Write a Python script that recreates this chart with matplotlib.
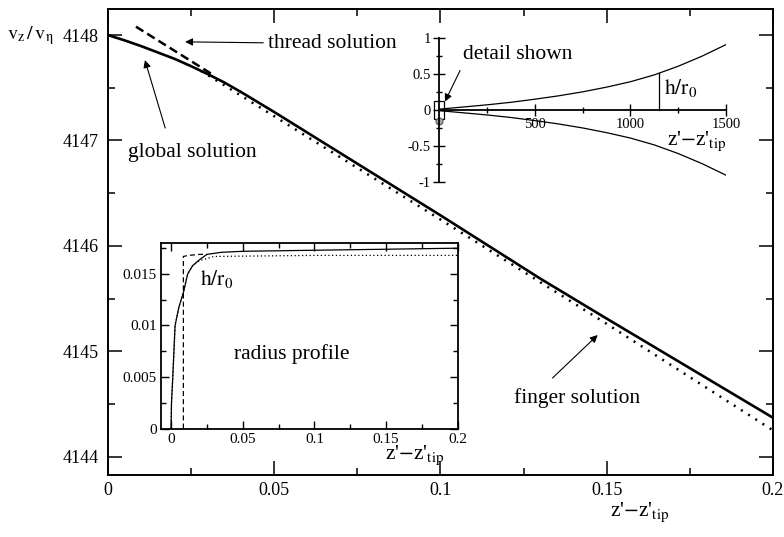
import numpy as np
import matplotlib.pyplot as plt
from matplotlib.ticker import MultipleLocator

plt.rcParams['font.family'] = ['Liberation Serif', 'DejaVu Serif']
plt.rcParams['mathtext.fontset'] = 'stix'

# main panel: velocity vs distance from tip
z_glob = [0, 0.005, 0.01, 0.015, 0.02, 0.025, 0.03, 0.035, 0.04, 0.05,
          0.075, 0.1, 0.13, 0.15, 0.175, 0.2]
v_glob = [4148.0, 4147.95, 4147.895, 4147.835, 4147.775, 4147.705, 4147.63,
          4147.55, 4147.46, 4147.27, 4146.78, 4146.29, 4145.69, 4145.31,
          4144.84, 4144.37]
z_finger = [0.028, 0.05, 0.1, 0.15, 0.2]
v_finger = [4147.66, 4147.23, 4146.25, 4145.26, 4144.25]
z_thread = [0.0084, 0.032]
v_thread = [4148.08, 4147.615]

# upper inset: full radius profile
z_prof = [0, 125, 250, 375, 500, 625, 750, 875, 1000, 1125, 1250, 1375, 1500]
h_prof = [0.01, 0.04, 0.07, 0.105, 0.148, 0.195, 0.25, 0.315, 0.39, 0.485,
          0.605, 0.745, 0.905]
z_mark = 1150
h_mark = 0.509

# lower inset: radius profile near the tip
z_rad = [0, 0.0003, 0.0012, 0.0028, 0.0055, 0.0086, 0.0116, 0.015, 0.02,
         0.025, 0.035, 0.05, 0.1, 0.15, 0.2]
h_rad = [0, 0.0025, 0.005, 0.01, 0.0118, 0.0132, 0.015, 0.0158, 0.0164,
         0.0169, 0.0171, 0.0172, 0.0173, 0.0174, 0.0175]
z_rad_f = [0, 0.0003, 0.0012, 0.0028, 0.0055, 0.0086, 0.0116, 0.015, 0.02,
           0.03, 0.1, 0.2]
h_rad_f = [0, 0.0025, 0.005, 0.01, 0.0118, 0.0132, 0.015, 0.0158, 0.0163,
           0.0167, 0.0168, 0.0168]
z_rad_t = [0.0086, 0.0086, 0.012, 0.02, 0.025]
h_rad_t = [0, 0.0167, 0.0168, 0.0169, 0.0169]

fig = plt.figure(figsize=(7.84, 5.37), dpi=100)
ax = fig.add_axes([0.1378, 0.1155, 0.848, 0.867])

ax.plot(z_glob, v_glob, color='black', lw=1.9)
ax.plot(z_finger, v_finger, color='black', lw=1.8, ls=(0, (0.8, 2.6)))
ax.plot(z_thread, v_thread, color='black', lw=1.8, ls=(0, (3.5, 1.8)))

ax.set_xlim(0, 0.2)
ax.set_ylim(4143.826, 4148.244)
ax.set_xticks([0, 0.05, 0.1, 0.15, 0.2])
ax.set_xticklabels(['0', '0.05', '0.1', '0.15', '0.2'])
ax.set_yticks([4144, 4145, 4146, 4147, 4148])
ax.xaxis.set_minor_locator(MultipleLocator(0.025))
ax.yaxis.set_minor_locator(MultipleLocator(0.5))
ax.tick_params(which='both', direction='in', top=True, right=True,
               labelsize=13, width=1.1)
ax.tick_params(which='major', length=10)
ax.tick_params(axis='x', which='major', pad=5)
ax.tick_params(axis='y', which='major', pad=7)
ax.tick_params(which='minor', length=5)
for s in ax.spines.values():
    s.set_linewidth(1.4)

ax.text(-0.0305, 4148.0, r'$\mathrm{v_z\,/\,v_\eta}$', fontsize=14.5,
        ha='left', va='center', clip_on=False)
ax.text(0.8, -0.055, r"z'$-$z'$_{\mathrm{tip}}$", fontsize=15.5,
        ha='center', va='top', transform=ax.transAxes)

arrow = dict(arrowstyle='-|>', lw=0.8, color='black', mutation_scale=11,
             shrinkA=0, shrinkB=0)
ax.text(0.0482, 4147.924, 'thread solution', fontsize=15.5, ha='left',
        va='center')
ax.annotate('', xy=(0.0232, 4147.936), xytext=(0.0467, 4147.927),
            arrowprops=arrow)
ax.text(0.0253, 4146.89, 'global solution', fontsize=15.5, ha='center',
        va='center')
ax.annotate('', xy=(0.0111, 4147.763), xytext=(0.0172, 4147.118),
            arrowprops=arrow)
ax.text(0.141, 4144.556, 'finger solution', fontsize=15.5, ha='center',
        va='center')
ax.annotate('', xy=(0.1473, 4145.154), xytext=(0.1337, 4144.746),
            arrowprops=arrow)

# upper inset
ai = fig.add_axes([0.560, 0.661, 0.366, 0.2687])
ai.patch.set_visible(False)
z_arr = np.array(z_prof)
h_arr = np.array(h_prof)
ai.plot(z_arr, h_arr, color='black', lw=0.9)
ai.plot(z_arr, -h_arr, color='black', lw=0.9)
ai.plot([z_mark, z_mark], [0, h_mark], color='black', lw=0.9)
ai.set_xlim(0, 1500)
ai.set_ylim(-1, 1)
ai.spines['top'].set_visible(False)
ai.spines['right'].set_visible(False)
ai.spines['bottom'].set_position(('data', 0))
for s in ('left', 'bottom'):
    ai.spines[s].set_linewidth(1.3)
ai.set_xticks([500, 1000, 1500])
ai.set_xticks([250, 750, 1250], minor=True)
ai.set_yticks([-1, -0.5, 0, 0.5, 1])
ai.set_yticklabels(['-1', '-0.5', '0', '0.5', '1'])
ai.yaxis.set_minor_locator(MultipleLocator(0.25))
ai.tick_params(which='both', direction='inout', labelsize=10.5, width=1)
ai.tick_params(which='major', length=8, pad=2)
ai.tick_params(which='minor', length=5)
ai.add_patch(plt.Rectangle((-26, -0.13), 54, 0.26, fill=False, lw=0.9,
                           ec='black', clip_on=False))
ai.plot([0], [-0.15], 'o', ms=5, mfc='0.65', mec='0.35', mew=0.8,
        clip_on=False)
ai.text(125, 0.764, 'detail shown', fontsize=15.5, va='center', ha='left')
ai.annotate('', xy=(31, 0.115), xytext=(110, 0.546), arrowprops=arrow)
ai.text(1175, 0.3, r'$\mathrm{h/r_0}$', fontsize=15.5, ha='left', va='center')
ai.text(1190, -0.43, r"z'$-$z'$_{\mathrm{tip}}$", fontsize=15.5,
        ha='left', va='center')

# lower inset
ab = fig.add_axes([0.2054, 0.2020, 0.3784, 0.3454])
ab.plot(z_rad, h_rad, color='black', lw=0.9)
ab.plot(z_rad_f, h_rad_f, color='black', lw=0.9, ls=(0, (1, 2)))
ab.plot(z_rad_t, h_rad_t, color='black', lw=0.9, ls=(0, (4, 2.5)))
ab.set_xlim(-0.007, 0.2)
ab.set_ylim(0, 0.018)
ab.set_xticks([0, 0.05, 0.1, 0.15, 0.2])
ab.set_xticklabels(['0', '0.05', '0.1', '0.15', '0.2'])
ab.set_yticks([0, 0.005, 0.01, 0.015])
ab.set_yticklabels(['0', '0.005', '0.01', '0.015'])
ab.xaxis.set_minor_locator(MultipleLocator(0.025))
ab.yaxis.set_minor_locator(MultipleLocator(0.0025))
ab.tick_params(which='both', direction='in', top=True, right=True,
               labelsize=11, width=1)
ab.tick_params(which='major', length=6, pad=3)
ab.tick_params(which='minor', length=3.5)
for s in ab.spines.values():
    s.set_linewidth(1.3)
ab.text(0.02, 0.0145, r'$\mathrm{h/r_0}$', fontsize=15.5, ha='left',
        va='center')
ab.text(0.084, 0.0072, 'radius profile', fontsize=15.5, ha='center',
        va='center')
ab.text(0.17, -0.0026, r"z'$-$z'$_{\mathrm{tip}}$", fontsize=15.5,
        ha='center', va='center')

fig.savefig('out.png', dpi=100)
